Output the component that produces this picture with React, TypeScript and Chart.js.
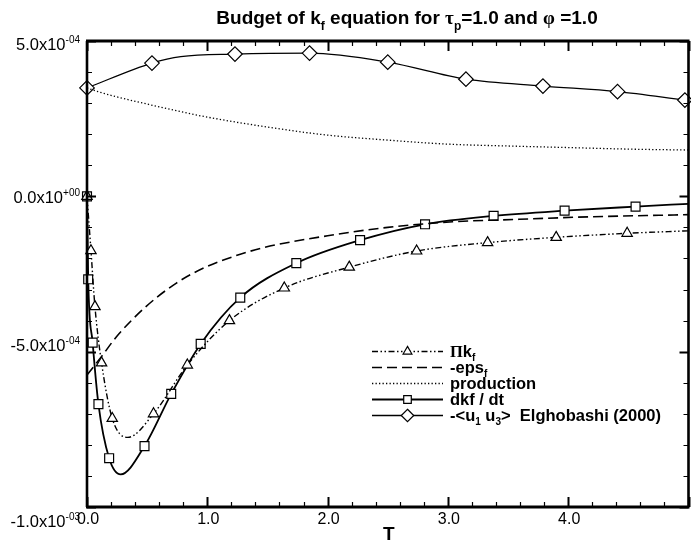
import React, { useEffect, useRef } from "react";
import { Chart, registerables } from "chart.js";

Chart.register(...registerables);

// ---------------- data ----------------
const seriesLabels = ["Πk_f", "-eps_f", "production", "dkf / dt", "-<u1 u3> Elghobashi (2000)"];

// Pi k_f  (dash-dot-dot, triangles)
const piT = [0, 0.033, 0.066, 0.121, 0.21, 0.338, 0.553, 0.834, 1.184, 1.64, 2.18, 2.74, 3.33, 3.9, 4.49, 5.0];
const piV = [0, -1.75e-4, -3.55e-4, -5.36e-4, -7.15e-4, -7.76e-4, -7.0e-4, -5.43e-4, -4.0e-4, -2.95e-4, -2.28e-4, -1.76e-4, -1.49e-4, -1.32e-4, -1.19e-4, -1.11e-4];
const piMark = [1, 1, 1, 1, 1, 0, 1, 1, 1, 1, 1, 1, 1, 1, 1, 0];

// -eps_f (dashed)
const epsT = [0, 0.12, 0.245, 0.49, 0.74, 0.99, 1.23, 1.48, 2.0, 2.5, 3.04, 3.59, 4.17, 4.88, 5.0];
const epsV = [-5.75e-4, -5.16e-4, -4.52e-4, -3.55e-4, -2.8e-4, -2.27e-4, -1.92e-4, -1.64e-4, -1.27e-4, -1.0e-4, -0.82e-4, -0.74e-4, -0.66e-4, -0.6e-4, -0.59e-4];

// production (dotted)
const prodT = [0, 0.1, 0.25, 0.5, 0.75, 1.0, 1.5, 2.0, 2.5, 3.0, 3.5, 4.0, 4.5, 5.0];
const prodV = [3.49e-4, 3.36e-4, 3.2e-4, 2.97e-4, 2.75e-4, 2.55e-4, 2.23e-4, 1.97e-4, 1.81e-4, 1.68e-4, 1.62e-4, 1.57e-4, 1.52e-4, 1.49e-4];

// dkf/dt (solid, squares)
const dkfT = [0, 0.01, 0.047, 0.095, 0.184, 0.28, 0.478, 0.7, 0.945, 1.274, 1.74, 2.27, 2.81, 3.38, 3.97, 4.56, 5.0];
const dkfV = [0, -2.67e-4, -4.71e-4, -6.69e-4, -8.43e-4, -8.95e-4, -8.04e-4, -6.36e-4, -4.75e-4, -3.26e-4, -2.15e-4, -1.41e-4, -0.9e-4, -0.63e-4, -0.46e-4, -0.33e-4, -0.24e-4];
const dkfMark = [1, 1, 1, 1, 1, 0, 1, 1, 1, 1, 1, 1, 1, 1, 1, 1, 0];

// -<u1 u3> Elghobashi (2000) (thin solid, diamonds)
const elgT = [0, 0.54, 0.78, 1.23, 1.85, 2.5, 3.15, 3.79, 4.41, 4.97];
const elgV = [3.49e-4, 4.29e-4, 4.5e-4, 4.58e-4, 4.61e-4, 4.32e-4, 3.77e-4, 3.55e-4, 3.37e-4, 3.1e-4];
const elgMark = [1, 1, 0, 1, 1, 1, 1, 1, 1, 1];

// axes
const xMin = 0;
const xMax = 5;
const yMin = -1.0e-3;
const yMax = 5.0e-4;
const xMajorTicks = [0, 1, 2, 3, 4, 5];
const xTickLabels = ["0.0", "1.0", "2.0", "3.0", "4.0"];
const xMinorStep = 0.2;
const yMajorTicks = [5e-4, 0, -5e-4, -1e-3];
const yTickMantissa = ["5.0x10", "0.0x10", "-5.0x10", "-1.0x10"];
const yTickExponent = ["-04", "+00", "-04", "-03"];
const yMinorStep = 1e-4;
const xAxisTitle = "T";

// ---------------- drawing helpers ----------------
const SANS = '"Liberation Sans", Arial, Helvetica, sans-serif';
const SERIF = '"Liberation Serif", "DejaVu Serif", serif';

type Seg = { t: string; sub?: boolean; sup?: boolean; serif?: boolean };

function segFont(s: Seg, size: number, bold: boolean) {
  const sz = s.sub || s.sup ? Math.round(size * 0.62) : size;
  const fam = s.serif ? SERIF : SANS;
  const w = bold ? "bold " : "";
  return `${w}${sz}px ${fam}`;
}

function drawRich(ctx: CanvasRenderingContext2D, x: number, y: number, segs: Seg[], size: number, bold: boolean, align: string) {
  let total = 0;
  for (const s of segs) {
    ctx.font = segFont(s, size, bold);
    total += ctx.measureText(s.t).width;
  }
  let cx = align === "center" ? x - total / 2 : align === "right" ? x - total : x;
  ctx.textAlign = "left";
  ctx.textBaseline = "alphabetic";
  ctx.fillStyle = "#000";
  for (const s of segs) {
    ctx.font = segFont(s, size, bold);
    const dy = s.sub ? size * 0.3 : s.sup ? -size * 0.42 : 0;
    ctx.fillText(s.t, cx, y + dy);
    cx += ctx.measureText(s.t).width;
  }
}

function drawMarker(ctx: CanvasRenderingContext2D, style: string, x: number, y: number, r: number) {
  ctx.save();
  ctx.setLineDash([]);
  ctx.beginPath();
  if (style === "triangle") {
    ctx.moveTo(x, y - r);
    ctx.lineTo(x + r * 0.866, y + r * 0.5);
    ctx.lineTo(x - r * 0.866, y + r * 0.5);
    ctx.closePath();
  } else if (style === "rect") {
    const s = r * Math.SQRT1_2;
    ctx.rect(x - s, y - s, 2 * s, 2 * s);
  } else if (style === "rectRot") {
    ctx.moveTo(x, y - r);
    ctx.lineTo(x + r, y);
    ctx.lineTo(x, y + r);
    ctx.lineTo(x - r, y);
    ctx.closePath();
  }
  ctx.fillStyle = "#fff";
  ctx.fill();
  ctx.lineWidth = 1.2;
  ctx.strokeStyle = "#000";
  ctx.stroke();
  ctx.restore();
}

const styles = [
  { dash: [6, 2.5, 1.5, 2.5, 1.5, 2.5], width: 1.4, point: "triangle", r: 6 },
  { dash: [10, 5], width: 1.6, point: "", r: 0 },
  { dash: [1.3, 2.2], width: 1.3, point: "", r: 0 },
  { dash: [], width: 1.8, point: "rect", r: 6.3 },
  { dash: [], width: 1.3, point: "rectRot", r: 7.3 },
];

const legendSegs: Seg[][] = [
  [{ t: "Π", serif: true }, { t: "k" }, { t: "f", sub: true }],
  [{ t: "-eps" }, { t: "f", sub: true }],
  [{ t: "production" }],
  [{ t: "dkf / dt" }],
  [{ t: "-<u" }, { t: "1", sub: true }, { t: " u" }, { t: "3", sub: true }, { t: ">  Elghobashi (2000)" }],
];

const titleSegs: Seg[] = [
  { t: "Budget of k" },
  { t: "f", sub: true },
  { t: " equation for " },
  { t: "τ", serif: true },
  { t: "p", sub: true },
  { t: "=1.0 and " },
  { t: "φ", serif: true },
  { t: " =1.0" },
];

const framePlugin = {
  id: "framePlugin",
  afterDraw(chart: any) {
    const ctx: CanvasRenderingContext2D = chart.ctx;
    const a = chart.chartArea;
    const xs = chart.scales.x;
    const ys = chart.scales.y;
    ctx.save();
    ctx.setLineDash([]);
    ctx.strokeStyle = "#000";

    // minor / major ticks
    const nX = Math.round((xMax - xMin) / xMinorStep);
    for (let i = 0; i <= nX; i++) {
      const v = xMin + i * xMinorStep;
      const px = Math.round(xs.getPixelForValue(v)) + 0.5;
      const major = xMajorTicks.some((m) => Math.abs(m - v) < 1e-9);
      const len = major ? 10 : 5;
      ctx.lineWidth = major ? 2 : 1.2;
      ctx.beginPath();
      ctx.moveTo(px, a.bottom);
      ctx.lineTo(px, a.bottom - len);
      ctx.moveTo(px, a.top);
      ctx.lineTo(px, a.top + len);
      ctx.stroke();
    }
    const nY = Math.round((yMax - yMin) / yMinorStep);
    for (let i = 0; i <= nY; i++) {
      const v = yMin + i * yMinorStep;
      const py = Math.round(ys.getPixelForValue(v)) + 0.5;
      const major = yMajorTicks.some((m) => Math.abs(m - v) < 1e-12);
      const len = major ? 9 : 5;
      ctx.lineWidth = major ? 2 : 1.2;
      ctx.beginPath();
      ctx.moveTo(a.left, py);
      ctx.lineTo(a.left + len, py);
      ctx.moveTo(a.right, py);
      ctx.lineTo(a.right - len, py);
      ctx.stroke();
    }

    // frame
    ctx.lineWidth = 3;
    ctx.beginPath();
    ctx.moveTo(a.left - 1, a.top);
    ctx.lineTo(a.right + 1, a.top);
    ctx.moveTo(a.left - 1, a.bottom);
    ctx.lineTo(a.right + 1, a.bottom);
    ctx.stroke();
    ctx.lineWidth = 2.6;
    ctx.beginPath();
    ctx.moveTo(a.left, a.top);
    ctx.lineTo(a.left, a.bottom);
    ctx.moveTo(a.right, a.top);
    ctx.lineTo(a.right, a.bottom);
    ctx.stroke();

    // x tick labels
    xTickLabels.forEach((lab, i) => {
      const px = xs.getPixelForValue(xMajorTicks[i]) + 1;
      drawRich(ctx, px, 524, [{ t: lab }], 16, false, "center");
    });
    // y tick labels
    const yDy = [3, 1, -6, 14];
    yMajorTicks.forEach((v, i) => {
      const py = ys.getPixelForValue(v) + yDy[i];
      drawRich(ctx, 80, py + 5.5, [{ t: yTickMantissa[i] }, { t: yTickExponent[i], sup: true }], 16.5, false, "right");
    });
    // axis title
    drawRich(ctx, (a.left + a.right) / 2 + 1, 540, [{ t: xAxisTitle }], 19, true, "center");
    // title
    drawRich(ctx, 407, 24, titleSegs, 19, true, "center");

    // legend
    const lx0 = 372, lx1 = 443, lm = 407.5, lt = 450;
    styles.forEach((st, i) => {
      const y = 351 + i * 16;
      ctx.save();
      ctx.setLineDash(st.dash);
      ctx.lineWidth = st.width;
      ctx.strokeStyle = "#000";
      ctx.beginPath();
      ctx.moveTo(lx0, y + 0.5);
      ctx.lineTo(lx1, y + 0.5);
      ctx.stroke();
      ctx.restore();
      if (st.point) drawMarker(ctx, st.point, lm, y + 0.5, st.r * 0.85);
      drawRich(ctx, lt, y + 5.5, legendSegs[i], 16.5, true, "left");
    });
    ctx.restore();
  },
};

function mk(label: string, T: number[], V: number[], st: any, marks: number[] | null) {
  return {
    label,
    data: T.map((t, i) => ({ x: t, y: V[i] })),
    borderColor: "#000",
    borderWidth: st.width,
    borderDash: st.dash,
    fill: false,
    cubicInterpolationMode: "monotone",
    pointStyle: st.point || "circle",
    pointRadius: T.map((_, i) => (marks && marks[i] ? st.r : 0)),
    pointBackgroundColor: "#fff",
    pointBorderColor: "#000",
    pointBorderWidth: 1.2,
    clip: 8,
  };
}

export default function App() {
  const ref = useRef<HTMLCanvasElement>(null);
  useEffect(() => {
    const canvas = ref.current as HTMLCanvasElement;
    const chart = new Chart(canvas, {
      type: "line",
      data: {
        datasets: [
          mk(seriesLabels[0], piT, piV, styles[0], piMark),
          mk(seriesLabels[1], epsT, epsV, styles[1], null),
          mk(seriesLabels[2], prodT, prodV, styles[2], null),
          mk(seriesLabels[3], dkfT, dkfV, styles[3], dkfMark),
          mk(seriesLabels[4], elgT, elgV, styles[4], elgMark),
        ] as any,
      },
      options: {
        responsive: false,
        animation: false,
        devicePixelRatio: 1,
        events: [],
        layout: { padding: { left: 87, top: 41, right: 3, bottom: 35 } },
        scales: {
          x: { type: "linear", min: xMin, max: xMax, display: false },
          y: { type: "linear", min: yMin, max: yMax, display: false },
        },
        plugins: {
          legend: { display: false },
          title: { display: false },
          tooltip: { enabled: false },
        },
      } as any,
      plugins: [framePlugin],
    });
    return () => chart.destroy();
  }, []);
  return (
    <div style={{ position: "fixed", left: 0, top: 0, width: 691, height: 542, overflow: "hidden", background: "#fff" }}>
      <canvas ref={ref} width={697} height={542} style={{ display: "block" }} />
    </div>
  );
}
